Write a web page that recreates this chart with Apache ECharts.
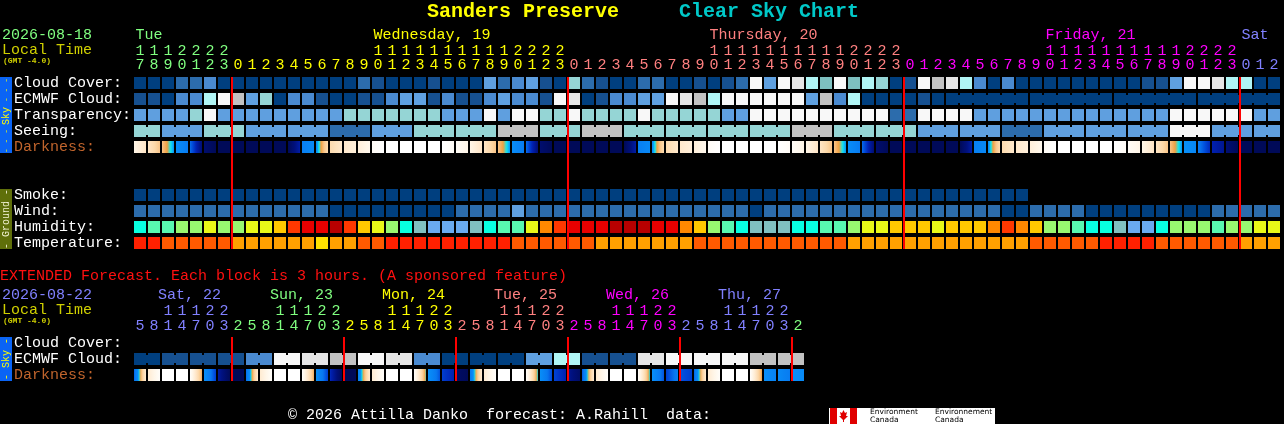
<!DOCTYPE html>
<html><head><meta charset="utf-8">
<script src="https://cdn.jsdelivr.net/npm/echarts@6/dist/echarts.min.js"></script>
<style>html,body{margin:0;padding:0;background:#000;}#c{width:1284px;height:424px;}</style>
</head><body><div id="c"></div>
<script>
// ---------------- DATA ----------------
const mainHours = [17,18,19,20,21,22,23,
 0,1,2,3,4,5,6,7,8,9,10,11,12,13,14,15,16,17,18,19,20,21,22,23,
 0,1,2,3,4,5,6,7,8,9,10,11,12,13,14,15,16,17,18,19,20,21,22,23,
 0,1,2,3,4,5,6,7,8,9,10,11,12,13,14,15,16,17,18,19,20,21,22,23,
 0,1,2];
const mainDayNames = ['Tue','Wednesday, 19','Thursday, 20','Friday, 21','Sat'];
const mainDayAnchor = [0,17,41,65,79];

const cloudCover = [0,0,0,2,2,3,0,0,0,0,0,0,0,0,0,0,2,1,0,0,0,
 1,0,0,0,4,2,3,4,1,0,6,2,1,0,0,2,2,0,0,1,0,1,2,10,4,10,9,7,5,10,
 5,7,6,0,1,10,8,9,7,3,0,3,0,0,0,0,0,0,0,0,0,1,1,4,10,10,9,7,7,0,0];
const ecmwfCloud = [1,1,0,3,3,7,10,8,4,6,0,3,3,1,0,0,1,1,3,4,4,
 1,3,1,1,3,4,3,3,1,10,9,0,1,3,3,4,4,10,9,8,7,10,10,10,10,10,10,4,8,3,
 7,0,0,0,0,1,0,0,0,0,0,0,0,0,0,0,0,0,0,0,0,0,0,0,0,0,0,0,0,0,0];
const transparency = [2,2,2,2,3,5,2,2,2,2,2,2,2,2,2,3,3,3,3,3,3,
 3,2,2,2,5,2,5,5,3,3,5,3,3,3,3,5,3,3,3,3,3,2,2,5,5,5,5,5,5,5,
 5,5,5,1,1,5,5,5,5,2,2,2,2,2,2,2,2,2,2,2,2,2,2,5,5,5,5,5,5,2,2];
const seeing = [3,3, 2,2,2, 3,3,3, 2,2,2, 2,2,2, 1,1,1, 2,2,2, 3,3,3, 3,3,3, 4,4,4, 3,3,3, 4,4,4,
 3,3,3, 3,3,3, 3,3,3, 3,3,3, 4,4,4, 3,3,3, 3,3,3, 2,2,2, 2,2,2, 1,1,1, 2,2,2, 2,2,2, 2,2,2,
 5,5,5, 2,2,2, 2,2];
const darkness = [
 [1.0,2.2],[2.2,3.6],[3.6,5.0],[5.2,6.2],[6.6,9.2],[9.4,10],[10,10],
 [10,10],[10,10],[10,10],[10,10],[10,8.2],[6.0,5.4],[5.2,2.8],[2.8,2.0],[2.0,1.5],[1.5,0.8],[0.4,0],[0,0],
 [0,0],[0,0],[0,0],[0,0.4],[0.4,1.0],[1.0,2.2],[2.2,3.6],[3.6,5.0],[5.2,6.2],[6.6,9.2],[9.4,10],[10,10],
 [10,10],[10,10],[10,10],[10,10],[10,8.2],[6.0,5.4],[5.2,2.8],[2.8,2.0],[2.0,1.5],[1.5,0.8],[0.4,0],[0,0],
 [0,0],[0,0],[0,0],[0,0.4],[0.4,1.0],[1.0,2.2],[2.2,3.6],[3.6,5.0],[5.2,6.2],[6.6,9.2],[9.4,10],[10,10],
 [10,10],[10,10],[10,10],[10,10],[10,8.2],[6.0,5.4],[5.2,2.8],[2.8,2.0],[2.0,1.5],[1.5,0.8],[0.4,0],[0,0],
 [0,0],[0,0],[0,0],[0,0.4],[0.4,1.0],[1.0,2.2],[2.2,3.6],[3.6,5.0],[5.0,5.6],[6.2,7.8],[8.0,8.6],[9.2,10],
 [10,10],[10,10],[10,10]];
const smoke = [0,0,0,0,0,0,0,0,0,0,0,0,0,0,0,0,0,0,0,0,0,0,0,0,0,0,0,0,0,0,0,0,
 0,0,0,0,0,0,0,0,0,0,0,0,0,0,0,0,0,0,0,0,0,0,0,0,0,0,0,0,0,0,0,0];
const wind = [1,1,1,1,1,1,1,1,1,1,1,1,1,1, 0,0,0,0,0,0,0,0,0, 1,1,1,1, 2,
 1,1,1,1,1,1,1,1,1,1,1,1,1,1,1,1, 0, 1,1,1,1,1,1,1,1,1,1,1,1,1,1,1,1,1,
 0,0, 1,1,1,1, 0,0,0,0,0,0,0,0,0, 1,1,1,1,1];
const humidity = [2,3,3,4,4,5,4,4,5,5,6,8,9,9,10,8,6,5,4,2,1,
 0,0,0,1,2,3,3,5,7,8,9,9,9,10,10,10,9,9,7,6,4,3,2,1,1,1,2,2,3,3,
 4,5,5,6,6,6,5,6,6,6,7,8,7,6,4,4,3,2,2,1,0,0,2,4,4,4,3,4,4,5,5];
const temperature = [3,3,2,2,2,2,2,1,1,1,1,1,1,0,1,1,2,2,3,3,3,
 3,3,3,3,3,3,2,2,2,2,2,2,1,1,1,1,1,1,1,2,2,2,2,2,2,2,2,2,2,2,
 1,1,1,1,1,1,1,1,1,1,1,1,1,2,2,2,2,2,3,3,3,3,2,2,2,2,2,2,1,1,1];
const mainMidnights = [7,31,55,79];

const extHours = [5,8,11,14,17,20,23,
 2,5,8,11,14,17,20,23, 2,5,8,11,14,17,20,23, 2,5,8,11,14,17,20,23,
 2,5,8,11,14,17,20,23, 2,5,8,11,14,17,20,23, 2];
const extDayNames = ['Sat, 22','Sun, 23','Mon, 24','Tue, 25','Wed, 26','Thu, 27'];
const extDayAnchor = [1,9,17,25,33,41];
const extEcmwf = [0,0,1,1,1,1,1,1,3,3,10,10,9,9,8,8,10,10,9,9,3,3,0,0,
 0,0,0,0,4,4,7,7,1,1,1,1,9,9,10,10,10,10,10,10,8,8,8,8];
const extDarkness = [
 [6.8,1.8],[1.8,0.2],[0,0],[0,0],[0.2,4.0],[5.1,7.4],[8.4,10],
 [10,10],[6.6,1.8],[1.8,0.2],[0,0],[0,0],[0.2,4.0],[5.1,7.4],[7.8,10],
 [10,10],[6.0,1.8],[1.8,0.2],[0,0],[0,0],[0.2,4.5],[5.0,7.0],[7.4,8.0],
 [9.6,10],[6.4,1.8],[1.8,0.2],[0,0],[0,0],[0.2,4.7],[5.1,7.2],[7.3,8.0],
 [8.6,9.6],[7.0,1.8],[1.8,0.2],[0,0],[0,0],[0.2,4.7],[5.1,7.0],[7.4,6.0],
 [7.0,7.4],[6.8,1.8],[1.8,0.2],[0,0],[0,0],[0.2,4.2],[5.1,5.8],[5.4,6.2],
 [5.0,5.4]];
const extMidnights = [7,15,23,31,39,47];

// ---------------- STYLE ----------------
const FONT = 'Liberation Mono';
const dayCycle = ['#80ff80','#ffff00','#ff8080','#ff00ff','#8080ff'];
const cloudPal = ['#003f7f','#165090','#2c6cac','#4a8ad0','#5fa0e0','#7ec0c0','#95d5d5','#b0f5f5','#c2c2c2','#e6e6e6','#f8f8f8'];
const transPal = ['#003f7f','#2c6cac','#5f9fdf','#95d5d5','#c2c2c2','#f8f8f8'];
const windPal = ['#003f7f','#2c6cac','#5f9fdf'];
const humPal = ['#6aaaf0','#80c0c0','#08ffe0','#58f8b0','#98f870','#e8f818','#ffc800','#ff8800','#ff3800','#e80000','#b80000'];
const tempPal = ['#ffe000','#ffa000','#ff5a00','#ff2000'];
const darkScale = [[0,'#ffffff'],[1,'#fff6e8'],[2,'#ffe8cc'],[3,'#fcd8a8'],[3.6,'#f8c488'],[4.2,'#f0a040'],
 [4.6,'#10e8f0'],[5.0,'#0890f8'],[6.4,'#0878f0'],[7.2,'#0048d8'],[8.0,'#0020b0'],[9.0,'#00107c'],[10,'#000a58']];

function hex(h){return [parseInt(h.slice(1,3),16),parseInt(h.slice(3,5),16),parseInt(h.slice(5,7),16)];}
function darkColor(v){
  if (v <= darkScale[0][0]) return darkScale[0][1];
  for (let k=1;k<darkScale.length;k++){
    if (v <= darkScale[k][0]){
      const a=darkScale[k-1], b=darkScale[k], t=(v-a[0])/(b[0]-a[0]);
      const ca=hex(a[1]), cb=hex(b[1]);
      return 'rgb('+ca.map((x,i)=>Math.round(x+(cb[i]-x)*t)).join(',')+')';
    }
  }
  return darkScale[darkScale.length-1][1];
}
function darkFill(p){
  const stops=[]; const n=12;
  for(let k=0;k<=n;k++){const t=k/n; stops.push({offset:t,color:darkColor(p[0]+(p[1]-p[0])*t)});}
  return new echarts.graphic.LinearGradient(0,0,1,0,stops);
}
function dayIndex(hours){ const out=[]; let d=0; hours.forEach((h,i)=>{ if(i>0 && h<hours[i-1]) d++; out.push(d); }); return out; }
const mainDay = dayIndex(mainHours);
const extDay = dayIndex(extHours);
const extDayOffset = 4; // Sat continues the colour cycle

// ---------------- ITEMS ----------------
const mainItems = [];
function addRow(items, vals, row, colorFn, linkFn){
  vals.forEach((v,i)=>items.push({value:[i,row], fill:colorFn(v), link: linkFn ? (i+1<vals.length && linkFn(i)) : false}));
}
addRow(mainItems, cloudCover, 0, v=>cloudPal[v]);
addRow(mainItems, ecmwfCloud, 1, v=>cloudPal[v], i=> i>=58 && Math.floor((17+i-3)/6)===Math.floor((18+i-3)/6));
addRow(mainItems, transparency, 2, v=>transPal[v]);
addRow(mainItems, seeing, 3, v=>transPal[v], i=> Math.floor((16+i)/3)===Math.floor((17+i)/3));
addRow(mainItems, darkness, 4, p=>darkFill(p));
addRow(mainItems, smoke, 7, v=>cloudPal[v]);
addRow(mainItems, wind, 8, v=>windPal[v]);
addRow(mainItems, humidity, 9, v=>humPal[v]);
addRow(mainItems, temperature, 10, v=>tempPal[v]);

const extItems = [];
addRow(extItems, extEcmwf, 1, v=>cloudPal[v], i=> i%2===0);
addRow(extItems, extDarkness, 2, p=>darkFill(p));

function blockRenderer(items){
  return function(params, api){
    const it = items[params.dataIndex];
    const c = api.coord([api.value(0), api.value(1)]);
    const ch = [{type:'rect', shape:{x:c[0]-6,y:c[1]-6,width:12,height:12}, style:{fill:it.fill}}];
    if (it.link) ch.push({type:'rect', shape:{x:c[0]+6,y:c[1]-4,width:2,height:8}, style:{fill:it.fill}});
    return {type:'group', children:ch};
  };
}
function lineRenderer(lastRow){
  return function(params, api){
    const a = api.coord([api.value(0), 0]);
    const b = api.coord([api.value(0), lastRow]);
    const w = api.size([1,1])[0];
    return {type:'rect', shape:{x:a[0]-w/2, y:a[1]-6, width:2, height:b[1]-a[1]+12}, style:{fill:'#ff0000'}};
  };
}

function richFor(lh){ const r={}; dayCycle.forEach((c,i)=>r['d'+i]={color:c,fontFamily:FONT,fontSize:15,lineHeight:lh}); return r; }
function hourFmt(days, offset){
  return function(val, idx){
    const s = String(val); const k='d'+((days[idx]+offset)%5);
    const tens = s.length>1 ? s[0] : ' ';
    return '{'+k+'|'+tens+'}\n{'+k+'|'+s[s.length-1]+'}';
  };
}
const yRich = {w:{color:'#ffffff',fontFamily:FONT,fontSize:15}, dk:{color:'#c0642c',fontFamily:FONT,fontSize:15}};
function yFmt(v){ if(!v) return ''; return v==='Darkness:' ? '{dk|'+v+'}' : '{w|'+v+'}'; }

const rowNamesMain = ['Cloud Cover:','ECMWF Cloud:','Transparency:','Seeing:','Darkness:','','','Smoke:','Wind:','Humidity:','Temperature:'];
const rowNamesExt = ['Cloud Cover:','ECMWF Cloud:','Darkness:'];

const chart = echarts.init(document.getElementById('c'), null, {width:1284, height:424});
const option = {
  backgroundColor:'#000000',
  animation:false,
  grid:[{left:133, top:75, width:1148, height:176},{left:133, top:335, width:672, height:48}],
  xAxis:[
    {type:'category', gridIndex:0, position:'top', data:mainHours.map(String), axisLine:{show:false}, axisTick:{show:false}, splitLine:{show:false},
     axisLabel:{interval:0, margin:3, formatter:hourFmt(mainDay,0), rich:richFor(14)}},
    {type:'category', gridIndex:1, position:'top', data:extHours.map(String), axisLine:{show:false}, axisTick:{show:false}, splitLine:{show:false},
     axisLabel:{interval:0, margin:1.5, formatter:hourFmt(extDay,extDayOffset), rich:richFor(15)}}
  ],
  yAxis:[
    {type:'category', gridIndex:0, inverse:true, data:rowNamesMain, axisLine:{show:false}, axisTick:{show:false}, splitLine:{show:false},
     axisLabel:{interval:0, align:'left', margin:119, padding:[1,0,0,0], formatter:yFmt, rich:yRich}},
    {type:'category', gridIndex:1, inverse:true, data:rowNamesExt, axisLine:{show:false}, axisTick:{show:false}, splitLine:{show:false},
     axisLabel:{interval:0, align:'left', margin:119, padding:[1,0,0,0], formatter:yFmt, rich:yRich}}
  ],
  series:[
    {type:'custom', xAxisIndex:0, yAxisIndex:0, silent:true, renderItem:blockRenderer(mainItems), data:mainItems.map(d=>d.value), z:2},
    {type:'custom', xAxisIndex:0, yAxisIndex:0, silent:true, renderItem:lineRenderer(10), data:mainMidnights.map(c=>[c,0]), z:5},
    {type:'custom', xAxisIndex:1, yAxisIndex:1, silent:true, renderItem:blockRenderer(extItems), data:extItems.map(d=>d.value), z:2},
    {type:'custom', xAxisIndex:1, yAxisIndex:1, silent:true, renderItem:lineRenderer(2), data:extMidnights.map(c=>[c,0]), z:5}
  ]
};
chart.setOption(option);

// ---------------- TEXT / DECORATION ----------------
function txt(x,y,text,color,o){ o=o||{}; return {type:'text', x:x, y:y, rotation:o.rot||0, silent:true, z:10,
  style:{text:text, fill:color, fontFamily:o.family||FONT, fontSize:o.size||15, fontWeight:o.weight||'normal', align:o.align||'left', verticalAlign:'middle'}}; }
function colX(axis, c){ const p = chart.convertToPixel({xAxisIndex:axis}, c); return (typeof p==='number' && !isNaN(p)) ? p : 140+14*c; }

const g = [];
g.push(txt(427,12,'Sanders Preserve','#ffff00',{size:20,weight:'bold'}));
g.push(txt(679,12,'Clear Sky Chart','#00c8c8',{size:20,weight:'bold'}));
g.push(txt(2,35,'2026-08-18','#80ff80'));
g.push(txt(2,50,'Local Time','#d0d000'));
g.push(txt(3,61,'(GMT -4.0)','#d0d000',{size:8,weight:'bold'}));
mainDayNames.forEach((n,k)=>g.push(txt(colX(0,mainDayAnchor[k])-4.5,35,n,dayCycle[(mainDay[mainDayAnchor[k]])%5])));

g.push(txt(0,276,'EXTENDED Forecast. Each block is 3 hours. (A sponsored feature)','#ff1010'));
g.push(txt(2,295,'2026-08-22','#8080ff'));
g.push(txt(2,310,'Local Time','#d0d000'));
g.push(txt(3,321,'(GMT -4.0)','#d0d000',{size:8,weight:'bold'}));
extDayNames.forEach((n,k)=>g.push(txt(colX(1,extDayAnchor[k])+4,295,n,dayCycle[(extDay[extDayAnchor[k]]+extDayOffset)%5])));

// side bars
g.push({type:'rect', shape:{x:0,y:77,width:12,height:76}, style:{fill:'#0a64f5'}, silent:true});
g.push(txt(6,90,'- - -','#ffff00',{size:8,rot:Math.PI/2,align:'center'}));
g.push(txt(6,116,'Sky','#ffff00',{size:10,rot:Math.PI/2,align:'center'}));
g.push(txt(6,141,'- - -','#ffff00',{size:8,rot:Math.PI/2,align:'center'}));
g.push({type:'rect', shape:{x:0,y:189,width:12,height:60}, style:{fill:'#5f6f0a'}, silent:true});
g.push(txt(6,219,'- Ground -','#f0f0d0',{size:10,rot:Math.PI/2,align:'center'}));
g.push({type:'rect', shape:{x:0,y:337,width:12,height:44}, style:{fill:'#0a64f5'}, silent:true});
g.push(txt(6,359,'- Sky -','#ffff00',{size:10,rot:Math.PI/2,align:'center'}));

// footer
g.push(txt(288,415,'\u00a9 2026 Attilla Danko  forecast: A.Rahill  data:','#ffffff'));
g.push({type:'rect', shape:{x:829,y:408,width:166,height:16}, style:{fill:'#ffffff'}, silent:true});
g.push({type:'rect', shape:{x:830,y:408,width:7,height:16}, style:{fill:'#e00000'}, silent:true});
g.push({type:'rect', shape:{x:850,y:408,width:7,height:16}, style:{fill:'#e00000'}, silent:true});
g.push({type:'polygon', shape:{points:[[843.5,410],[845,413],[847,412],[846,416],[848,416],[844,420],[844,422],[843,422],[843,420],[839,416],[841,416],[840,412],[842,413]]}, style:{fill:'#e00000'}, silent:true});
g.push(txt(870,412,'Environment','#000000',{size:7.5,family:'DejaVu Sans'}));
g.push(txt(870,420,'Canada','#000000',{size:7.5,family:'DejaVu Sans'}));
g.push(txt(935,412,'Environnement','#000000',{size:7.5,family:'DejaVu Sans'}));
g.push(txt(935,420,'Canada','#000000',{size:7.5,family:'DejaVu Sans'}));

chart.setOption({graphic:{elements:g}});
</script>
</body></html>
